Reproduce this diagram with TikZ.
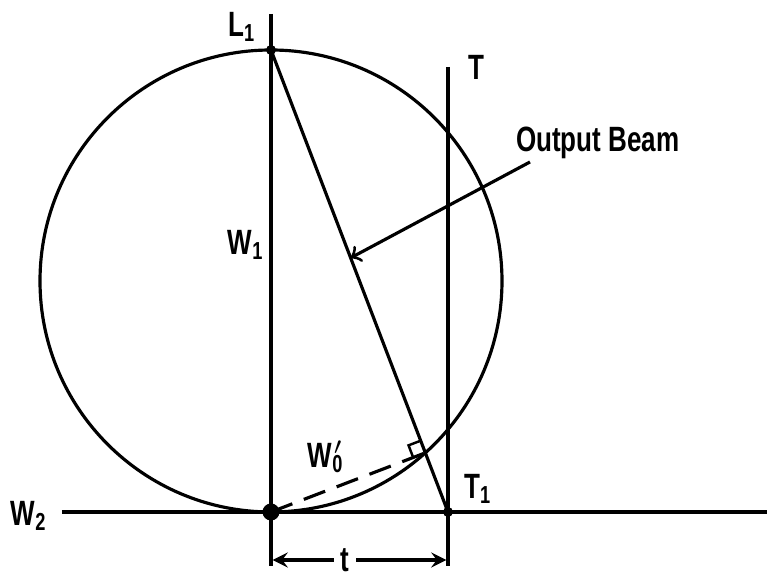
\documentclass[tikz,border=0pt]{standalone}
\usepackage{fontspec}
\setmainfont{Liberation Sans}[FakeStretch=0.74]
\usetikzlibrary{calc}

\begin{document}
\begin{tikzpicture}[line width=0.9pt,
    font=\fontsize{10}{11}\selectfont\bfseries,
    lbl/.style={inner sep=1pt}]
    \useasboundingbox (-2.71,-0.63) rectangle (4.96,5.12);
    % the points of the construction
    \coordinate (W) at (0,0);
    \coordinate (L1) at (0,4.62);
    \coordinate (T1) at (1.77,0);
    \coordinate (ctr) at (0,2.31);
    % circle through L1 and W, tangent to W2
    \draw (ctr) circle (2.31);
    % the three long lines
    \coordinate (Wtop) at (0,4.98);
    \coordinate (Wbot) at (0,-0.54);
    \coordinate (Ttop) at (1.77,4.45);
    \coordinate (Tbot) at (1.77,-0.54);
    \coordinate (Hleft) at (-2.09,0);
    \coordinate (Hright) at (4.96,0);
    \draw (Wtop) -- (Wbot);
    \draw (Ttop) -- (Tbot);
    \draw (Hleft) -- (Hright);
    % output beam from L1 to T1
    \draw (L1) -- (T1);
    % normal from W onto the beam, with its right angle
    \coordinate (F) at ($(L1)!(W)!(T1)$);
    \draw[dash pattern=on 6.5pt off 3.5pt] (W) -- (F);
    \coordinate (Fa) at ($(F)!0.13cm!(L1)$);
    \coordinate (Fb) at ($(F)!0.13cm!(W)$);
    \draw[line width=0.7pt] (Fa) -- ($(Fa)+(Fb)-(F)$) -- (Fb);
    % dots
    \fill (L1) circle (0.05);
    \fill (T1) circle (0.05);
    \fill (W) circle (0.085);
    % labels
    \node[lbl] (lL1) at (-0.29,4.85) {L\textsubscript{1}};
    \node[lbl] (lT) at (2.05,4.45) {T};
    \node[lbl] (lT1) at (2.07,0.23) {T\textsubscript{1}};
    \node[lbl] (lW1) at (-0.25,2.67) {W\textsubscript{1}};
    \node[lbl] (lW2) at (-2.42,-0.04) {W\textsubscript{2}};
    \node[lbl] (lW0) at (0.55,0.55) {W\rlap{\textsuperscript{\kern0.05em$\prime$}}\textsubscript{0}};
    % the arrow to the beam
    \node[lbl, anchor=west] (beam) at (2.40,3.69) {Output Beam};
    \coordinate (Bs) at (2.59,3.50);
    \coordinate (Be) at ($(L1)!0.45!(T1)$);
    \draw[->] (Bs) -- (Be);
    % distance t between W1 and T
    \coordinate (Da) at (0,-0.48);
    \coordinate (Db) at (1.77,-0.48);
    \draw[<->, >=stealth, shorten <=0.45pt, shorten >=0.45pt] (Da) -- (Db);
    \node[fill=white, inner sep=2pt] (lt) at (0.74,-0.48) {t};
\end{tikzpicture}
\end{document}
